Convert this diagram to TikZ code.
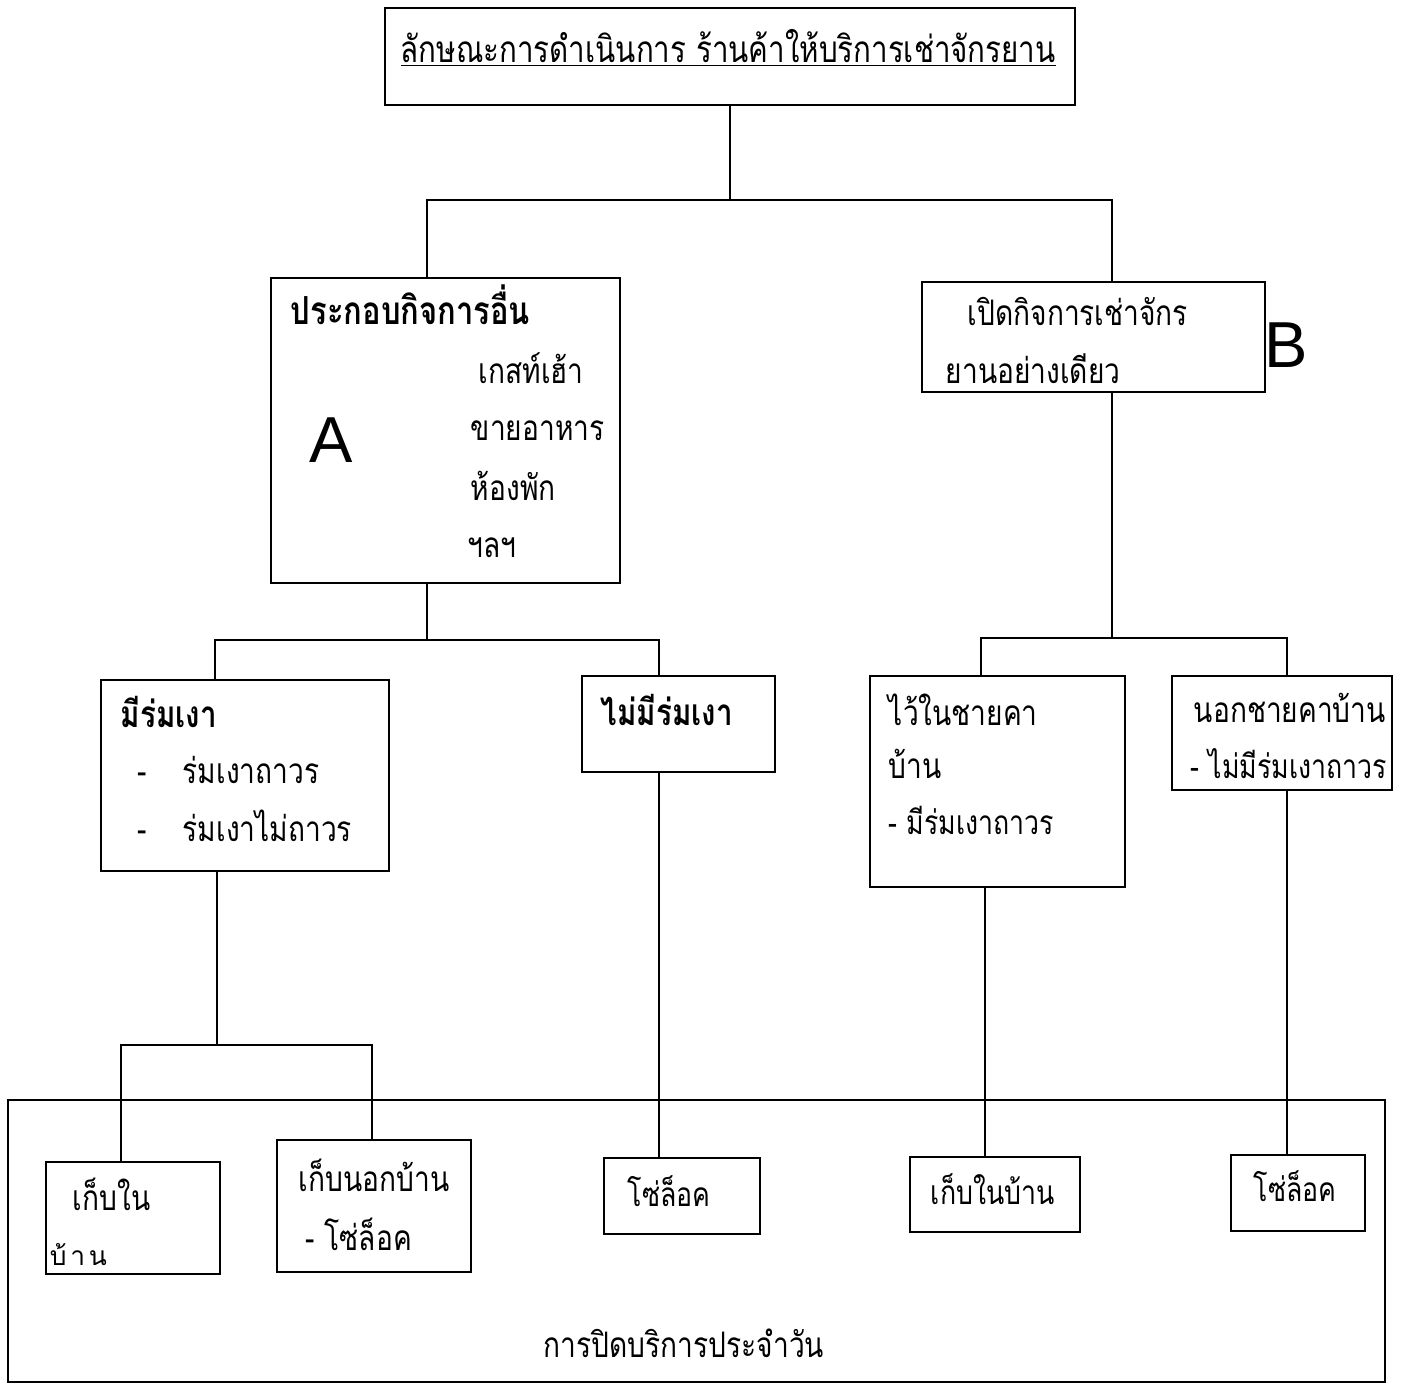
\documentclass[tikz,border=0pt]{standalone}
\usepackage{fontspec}
\usepackage{tikz}
\usetikzlibrary{fit}
\newfontfamily\thaifont[Script=Thai, FakeStretch=0.8]{Loma}
\newfontfamily\thaiwide[Script=Thai, LetterSpace=14]{Loma}
\newfontfamily\latinfont{Liberation Sans}

\begin{document}
\begin{tikzpicture}[x=0.02cm, y=-0.02cm, line width=1pt,
    box/.style={draw, inner sep=0pt},
    txt/.style={inner sep=0pt, anchor=base west, font=\thaifont\fontsize{20}{24}\selectfont},
    thin/.style={txt, font=\thaifont\fontsize{19}{23}\selectfont},
    head/.style={txt, font=\thaifont\bfseries\fontsize{21}{25}\selectfont},
    big/.style={inner sep=0pt, font=\latinfont\fontsize{37}{40}\selectfont}]
    \useasboundingbox (0,0) rectangle (1419,1385);
    % boxes
    \node[box, fit={(385,8) (1075,105)}] (title) {};
    \node[box, fit={(271,278) (620,583)}] (boxA) {};
    \node[box, fit={(922,282) (1265,392)}] (boxB) {};
    \node[box, fit={(101,680) (389,871)}] (shade) {};
    \node[box, fit={(582,676) (775,772)}] (noshade) {};
    \node[box, fit={(870,676) (1125,887)}] (eaves) {};
    \node[box, fit={(1172,676) (1392,790)}] (outside) {};
    \node[box, fit={(8,1100) (1385,1382)}] (close) {};
    \node[box, fit={(46,1162) (220,1274)}] (keepin) {};
    \node[box, fit={(277,1140) (471,1272)}] (keepout) {};
    \node[box, fit={(604,1158) (760,1234)}] (lockA) {};
    \node[box, fit={(910,1157) (1080,1232)}] (keepinB) {};
    \node[box, fit={(1231,1155) (1365,1231)}] (lockB) {};
    % texts
    \node[txt, font=\thaifont\fontsize{21}{25}\selectfont] (ttl) at (400,63)
        {\underline{ลักษณะการดำเนินการ ร้านค้าให้บริการเช่าจักรยาน}};
    \node[head, font=\thaifont\bfseries\fontsize{22}{26}\selectfont] (a0) at (290,325) {ประกอบกิจการอื่น};
    \node[big] (la) at (331,440) {A};
    \node[txt] (a1) at (478,383) {เกสท์เฮ้า};
    \node[txt] (a2) at (470,440) {ขายอาหาร};
    \node[txt] (a3) at (470,500) {ห้องพัก};
    \node[txt] (a4) at (467,557) {ฯลฯ};
    \node[txt] (b0) at (967,326) {เปิดกิจการเช่าจักร};
    \node[txt] (b1) at (945,383) {ยานอย่างเดียว};
    \node[big] (lb) at (1286,345) {B};
    \node[head] (s0) at (120,727) {มีร่มเงา};
    \node[txt] (s1d) at (137,783) {-};
    \node[txt] (s1) at (182,783) {ร่มเงาถาวร};
    \node[txt] (s2d) at (137,841) {-};
    \node[txt] (s2) at (182,841) {ร่มเงาไม่ถาวร};
    \node[head] (n0) at (600,725) {ไม่มีร่มเงา};
    \node[txt] (e0) at (888,725) {ไว้ในชายคา};
    \node[txt] (e1) at (888,778) {บ้าน};
    \node[thin] (e2) at (888,834) {- มีร่มเงาถาวร};
    \node[txt] (o0) at (1193,722) {นอกชายคาบ้าน};
    \node[thin] (o1) at (1190,778) {- ไม่มีร่มเงาถาวร};
    \node[txt] (k0) at (72,1210) {เก็บใน};
    \node[txt, font=\thaiwide\fontsize{15}{18}\selectfont] (k1) at (49,1265) {บ้าน};
    \node[txt] (q0) at (298,1191) {เก็บนอกบ้าน};
    \node[txt] (q1) at (305,1250) {- โซ่ล็อค};
    \node[thin] (l1) at (627,1206) {โซ่ล็อค};
    \node[thin] (l2) at (930,1204) {เก็บในบ้าน};
    \node[thin] (l3) at (1253,1201) {โซ่ล็อค};
    \node[txt] (c0) at (543,1357) {การปิดบริการประจำวัน};
    % junctions
    \coordinate (jA) at (427,200);
    \coordinate (jB) at (1112,200);
    \coordinate (kA) at (215,640);
    \coordinate (kB) at (659,640);
    \coordinate (mA) at (981,638);
    \coordinate (mB) at (1287,638);
    \coordinate (sA) at (217,1045);
    \coordinate (pA) at (121,1045);
    \coordinate (pB) at (372,1045);
    \coordinate (eA) at (985,900);
    % connectors
    \draw (title.south) -- (title.south |- jA);
    \draw (boxA.north -| jA) |- (jB) -- (boxB.north -| jB);
    \draw (boxA.south -| jA) -- (jA |- kA);
    \draw (shade.north -| kA) |- (kB) -- (noshade.north -| kB);
    \draw (boxB.south -| jB) -- (jB |- mA);
    \draw (eaves.north -| mA) |- (mB) -- (outside.north -| mB);
    \draw (shade.south -| sA) -- (sA);
    \draw (keepin.north -| pA) |- (pB) -- (keepout.north -| pB);
    \draw (noshade.south -| kB) -- (lockA.north -| kB);
    \draw (eaves.south -| eA) -- (keepinB.north -| eA);
    \draw (outside.south -| mB) -- (lockB.north -| mB);
\end{tikzpicture}
\end{document}
